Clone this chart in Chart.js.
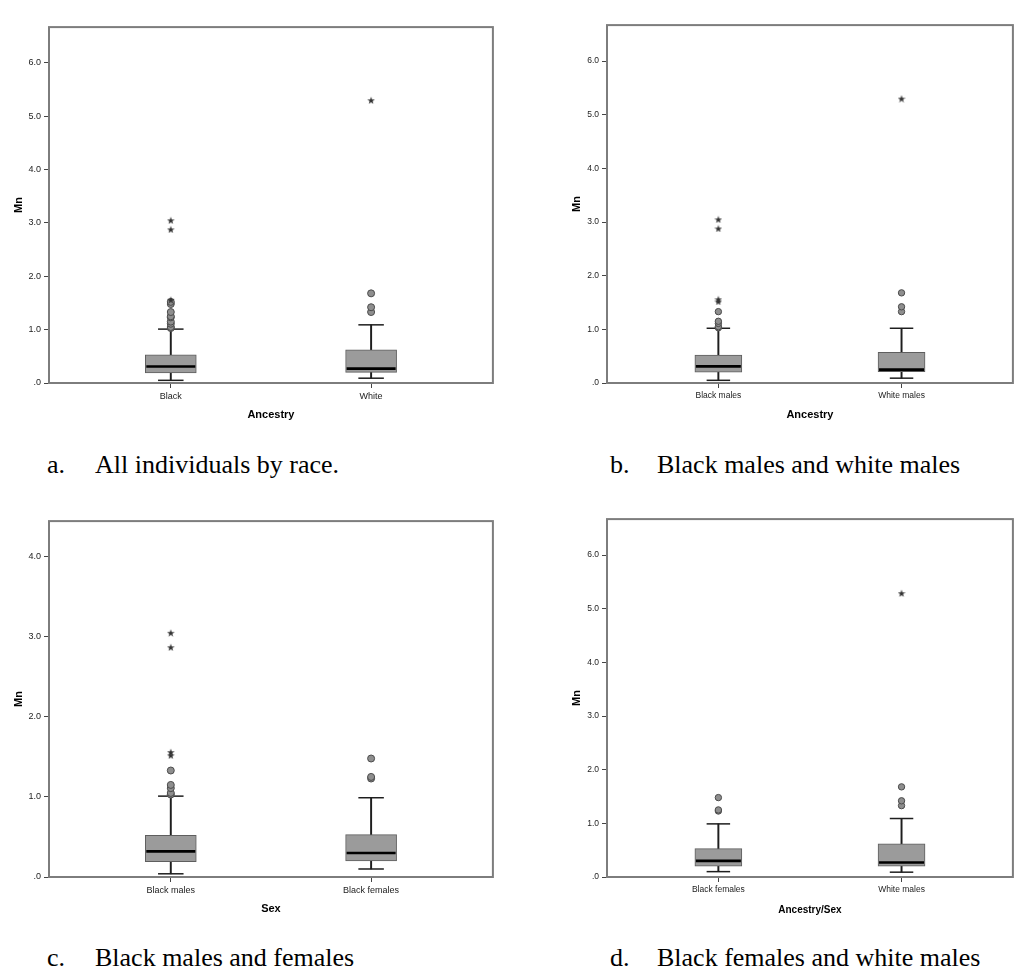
<!DOCTYPE html>
<html>
<head>
<meta charset="utf-8">
<script src="https://cdn.jsdelivr.net/npm/chart.js@4.4.1/dist/chart.umd.min.js"></script>
<style>
  html, body { margin: 0; padding: 0; background: #fff; width: 1017px; height: 974px; overflow: hidden; }
  .panel { position: absolute; }
  .cap { position: absolute; font-family: "Liberation Serif", "Times New Roman", serif; font-size: 26px; line-height: 26px; color: #000; white-space: nowrap; }
</style>
</head>
<body>
<div class="panel" style="left:0;top:0;width:520px;height:430px"><canvas id="chartA"></canvas></div>
<div class="panel" style="left:558px;top:0;width:480px;height:430px"><canvas id="chartB"></canvas></div>
<div class="panel" style="left:0;top:494px;width:520px;height:430px"><canvas id="chartC"></canvas></div>
<div class="panel" style="left:558px;top:494px;width:480px;height:430px"><canvas id="chartD"></canvas></div>

<div class="cap" style="left:47px;top:452px">a.</div>
<div class="cap" style="left:95px;top:452px">All individuals by race.</div>
<div class="cap" style="left:610px;top:452px">b.</div>
<div class="cap" style="left:657px;top:452px">Black males and white males</div>
<div class="cap" style="left:47px;top:945px">c.</div>
<div class="cap" style="left:95px;top:945px">Black males and females</div>
<div class="cap" style="left:610px;top:945px">d.</div>
<div class="cap" style="left:657px;top:945px">Black females and white males</div>

<script>
// each box row: [lower whisker, Q1, median, Q3, upper whisker]

// a. all individuals by race
const labelsA = ["Black", "White"];
const boxA = [[0.05, 0.19, 0.31, 0.53, 1.01], [0.09, 0.20, 0.27, 0.62, 1.09]];
const outA = [[1.03, 1.05, 1.11, 1.15, 1.23, 1.25, 1.33, 1.48, 1.52], [1.33, 1.42, 1.68]];
const extA = [[1.56, 2.88, 3.05], [5.30]];

// b. black males and white males
const labelsB = ["Black males", "White males"];
const boxB = [[0.05, 0.20, 0.31, 0.52, 1.02], [0.09, 0.21, 0.25, 0.57, 1.02]];
const outB = [[1.03, 1.05, 1.11, 1.15, 1.33], [1.33, 1.42, 1.68]];
const extB = [[1.52, 1.56, 2.88, 3.05], [5.30]];

// c. black males and females
const labelsC = ["Black males", "Black females"];
const boxC = [[0.04, 0.19, 0.32, 0.52, 1.01], [0.10, 0.20, 0.30, 0.53, 0.99]];
const outC = [[1.03, 1.05, 1.11, 1.15, 1.33], [1.23, 1.25, 1.48]];
const extC = [[1.52, 1.56, 2.87, 3.05], []];

// d. black females and white males
const labelsD = ["Black females", "White males"];
const boxD = [[0.10, 0.20, 0.30, 0.53, 0.99], [0.09, 0.20, 0.27, 0.62, 1.09]];
const outD = [[1.23, 1.25, 1.48], [1.33, 1.42, 1.68]];
const extD = [[], [5.29]];

const yMaxTall = 6.67;
const yMaxShort = 4.445;

function makeStar(size, color) {
  const c = document.createElement("canvas");
  c.width = c.height = size;
  const g = c.getContext("2d");
  const R = size / 2, r = R * 0.4;
  g.beginPath();
  for (let i = 0; i < 10; i++) {
    const a = -Math.PI / 2 + (i * Math.PI) / 5;
    const rad = i % 2 ? r : R;
    g.lineTo(R + rad * Math.cos(a), R + 0.5 + rad * Math.sin(a));
  }
  g.closePath();
  g.fillStyle = color;
  g.fill();
  return c;
}
const starImg = makeStar(8, "#333");

const framePlugin = {
  id: "frame",
  afterDraw(chart) {
    const { ctx, chartArea: a } = chart;
    ctx.save();
    ctx.strokeStyle = "#7d7d7d";
    ctx.lineWidth = 2;
    ctx.strokeRect(a.left, a.top, a.right - a.left, a.bottom - a.top);
    ctx.restore();
  },
};

function makeChart(id, labels, box, outliers, extremes, o) {
  const xs = labels.map((_, i) => i + 1);
  const flat = (arr) => arr.flatMap((vals, i) => vals.map((v) => ({ x: xs[i], y: v })));
  const caps = box.flatMap((b, i) => [{ x: xs[i], y: b[0] }, { x: xs[i], y: b[4] }]);

  return new Chart(document.getElementById(id), {
    type: "bar",
    data: {
      datasets: [
        { type: "bar", data: xs.map((x, i) => ({ x, y: [box[i][0], box[i][4]] })), barThickness: 1.3, backgroundColor: "#1e1e1e", grouped: false, order: 6 },
        { type: "bar", data: xs.map((x, i) => ({ x, y: [box[i][1], box[i][3]] })), barThickness: o.boxW, backgroundColor: "#9b9b9b", borderColor: "#5e5e5e", borderWidth: 1, borderSkipped: false, grouped: false, order: 5 },
        { type: "scatter", data: xs.map((x, i) => ({ x, y: box[i][2] })), pointStyle: "line", pointRadius: o.boxW / 2 - 1, pointBorderWidth: 2.6, pointBorderColor: "#000", order: 4 },
        { type: "scatter", data: caps, pointStyle: "line", pointRadius: o.boxW / 4, pointBorderWidth: 1.5, pointBorderColor: "#1e1e1e", order: 4 },
        { type: "scatter", data: flat(outliers), pointStyle: "circle", pointRadius: o.dot, pointBackgroundColor: "#8e8e8e", pointBorderColor: "#4a4a4a", pointBorderWidth: 1, order: 3 },
        { type: "scatter", data: flat(extremes), pointStyle: starImg, pointRadius: 4, order: 2 },
      ],
    },
    options: {
      responsive: true,
      maintainAspectRatio: false,
      animation: false,
      events: [],
      layout: { padding: { top: 9, right: o.padRight, left: 0, bottom: 0 } },
      plugins: { legend: { display: false }, tooltip: { enabled: false } },
      scales: {
        x: {
          type: "linear",
          offset: false,
          min: 0.392,
          max: 2.608,
          afterBuildTicks: (axis) => { axis.ticks = xs.map((v) => ({ value: v })); },
          afterFit: (axis) => { axis.height = 47; },
          grid: { display: true, offset: false, drawOnChartArea: false, drawTicks: true, tickLength: 5, color: "#444" },
          border: { display: false },
          ticks: { autoSkip: false, maxRotation: 0, padding: 3, color: "#222", font: { family: "Liberation Sans", size: o.tickFont }, callback: (v) => labels[v - 1] },
          title: { display: true, text: o.xTitle, color: "#000", font: { family: "Liberation Sans", size: o.titleFont, weight: "bold" }, padding: { top: 0, bottom: 8 } },
        },
        y: {
          min: 0,
          max: o.yMax,
          afterFit: (axis) => { axis.width = 49; },
          grid: { display: true, drawOnChartArea: false, drawTicks: true, tickLength: 5, color: "#444" },
          border: { display: false },
          ticks: { stepSize: 1, includeBounds: false, padding: 3, color: "#222", font: { family: "Liberation Sans", size: o.tickFont }, callback: (v) => (v === 0 ? ".0" : v.toFixed(1)) },
          title: { display: true, text: "Mn", color: "#000", font: { family: "Liberation Sans", size: 11, weight: "bold" }, padding: { top: 12.5, bottom: 0 } },
        },
      },
    },
    plugins: [framePlugin],
  });
}

makeChart("chartA", labelsA, boxA, outA, extA, { yMax: yMaxTall, xTitle: "Ancestry", boxW: 51, dot: 3.5, tickFont: 9, titleFont: 11, padRight: 19 });
makeChart("chartB", labelsB, boxB, outB, extB, { yMax: yMaxTall, xTitle: "Ancestry", boxW: 47, dot: 3.2, tickFont: 8.5, titleFont: 11, padRight: 11 });
makeChart("chartC", labelsC, boxC, outC, extC, { yMax: yMaxShort, xTitle: "Sex", boxW: 51, dot: 3.5, tickFont: 9, titleFont: 11, padRight: 19 });
makeChart("chartD", labelsD, boxD, outD, extD, { yMax: yMaxTall, xTitle: "Ancestry/Sex", boxW: 47, dot: 3.2, tickFont: 8.5, titleFont: 10, padRight: 11 });
</script>
</body>
</html>
